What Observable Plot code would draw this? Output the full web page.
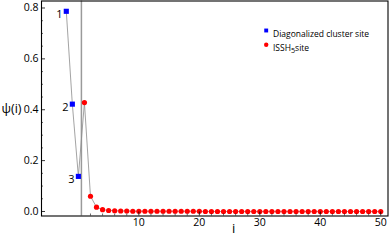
<!DOCTYPE html>
<html><head><meta charset="utf-8">
<script src="https://cdn.jsdelivr.net/npm/d3@7"></script>
<script src="https://cdn.jsdelivr.net/npm/@observablehq/plot@0.6"></script>
<style>body{margin:0;background:#fff} svg{display:block}</style>
</head><body><div id="chart"></div>
<script>
// Data
const clusterSites = [-2, -1, 0];
const clusterValues = [0.787, 0.422, 0.138];
const clusterLabels = ["1", "2", "3"];
const isshValues = [0.428, 0.060, 0.017, 0.007, 0.004, 0.003, 0.002, 0.002, 0.001, 0.001,
  0.001, 0.001, 0.001, 0.001, 0.001, 0.001, 0.001, 0.001, 0.001, 0.001,
  0.000, 0.000, 0.000, 0.000, 0.000, 0.000, 0.000, 0.000, 0.000, 0.000,
  0.000, 0.000, 0.000, 0.000, 0.000, 0.000, 0.000, 0.000, 0.000, 0.000,
  0.000, 0.000, 0.000, 0.000, 0.000, 0.000, 0.000, 0.000, 0.000, 0.000];
const xTicks = [10, 20, 30, 40, 50];
const xMinorTicks = [2,4,6,8,12,14,16,18,22,24,26,28,32,34,36,38,42,44,46,48];
const yTicks = [0, 0.2, 0.4, 0.6, 0.8];
const yMinorTicks = [0.05,0.1,0.15,0.25,0.3,0.35,0.45,0.5,0.55,0.65,0.7,0.75];
const boundary = 0.5;
const legendLabels = ["Diagonalized cluster site", "ISSH5site"];

const cluster = clusterSites.map((i, k) => ({i, v: clusterValues[k], label: clusterLabels[k]}));
const issh = isshValues.map((v, k) => ({i: k + 1, v}));
const all = cluster.concat(issh);

const W = 390, H = 242;
const mL = 41, mR = 2.5, mT = 0.5, mB = 26.5;
const xDomain = [-6.1, 51.2];
const yDomain = [-0.0177, 0.8275];
const pxX = (xDomain[1] - xDomain[0]) / (W - mL - mR);
const pxY = (yDomain[1] - yDomain[0]) / (H - mT - mB);

const font = "'Open Sans', 'Noto Sans', sans-serif";

const chart = Plot.plot({
  width: W, height: H,
  marginLeft: mL, marginRight: mR, marginTop: mT, marginBottom: mB,
  x: {domain: xDomain},
  y: {domain: yDomain},
  style: {fontFamily: font, fontSize: "10px", background: "white", color: "black"},
  marks: [
    Plot.ruleX([boundary], {stroke: "#9a9a9a", strokeWidth: 1.5}),
    Plot.line(all, {x: "i", y: "v", stroke: "#8c8c8c", strokeWidth: 0.8}),
    Plot.dot(issh, {x: "i", y: "v", r: 2.6, fill: "#ff0000"}),
    Plot.dot(cluster, {x: "i", y: "v", r: 2.9, symbol: "square", fill: "#0000ff"}),
    Plot.text(cluster, {x: "i", y: "v", text: "label", dx: -7, dy: 3, fontSize: 11, fill: "black"}),
    // inward ticks
    Plot.ruleX(xTicks, {x: d => d, y1: yDomain[0], y2: yDomain[0] + 4 * pxY, stroke: "black", strokeWidth: 0.8}),
    Plot.ruleX(xMinorTicks, {x: d => d, y1: yDomain[0], y2: yDomain[0] + 2 * pxY, stroke: "black", strokeWidth: 0.6}),
    Plot.ruleY(yTicks, {y: d => d, x1: xDomain[0], x2: xDomain[0] + 4 * pxX, stroke: "black", strokeWidth: 0.8}),
    Plot.ruleY(yMinorTicks, {y: d => d, x1: xDomain[0], x2: xDomain[0] + 2 * pxX, stroke: "black", strokeWidth: 0.6}),
    Plot.axisX({ticks: xTicks, tickSize: 0, tickPadding: 3, label: null, fontSize: 10.5}),
    Plot.axisY({ticks: yTicks, tickSize: 0, tickPadding: 3, tickFormat: d3.format(".1f"), label: null, fontSize: 10.5}),
    Plot.frame({stroke: "black", strokeWidth: 1.1}),
    // axis labels
    Plot.text(["ψ(i)"], {frameAnchor: "left", dx: -30, dy: 0, fontSize: 12.5, textAnchor: "middle", fill: "black"}),
    Plot.text(["i"], {frameAnchor: "bottom", dx: 19, dy: 17, fontSize: 13, textAnchor: "middle", fill: "black"}),
    // legend
    Plot.dot([legendLabels[0]], {frameAnchor: "top-left", dx: 224.7, dy: 29.5, r: 2.2, symbol: "square", fill: "#0000ff"}),
    Plot.dot([legendLabels[1]], {frameAnchor: "top-left", dx: 224.7, dy: 43.8, r: 2.2, fill: "#ff0000"}),
    Plot.text([legendLabels[0]], {frameAnchor: "top-left", dx: 231.5, dy: 29.5, text: d => d, textAnchor: "start", fontSize: 8.5, fill: "black"}),
    Plot.text([legendLabels[1]], {frameAnchor: "top-left", dx: 231.5, dy: 43.8, text: d => d, textAnchor: "start", fontSize: 8.5, fill: "black"})
  ]
});
document.getElementById("chart").appendChild(chart);

// subscript in legend
d3.select(chart).selectAll("text").each(function() {
  const t = d3.select(this);
  if (t.text() === "ISSH5site") {
    t.text("");
    t.append("tspan").text("ISSH");
    t.append("tspan").attr("dy", "2.4").attr("font-size", "7.2").text("5");
    t.append("tspan").attr("dy", "-2.4").text("site");
  }
});
</script>
</body></html>
